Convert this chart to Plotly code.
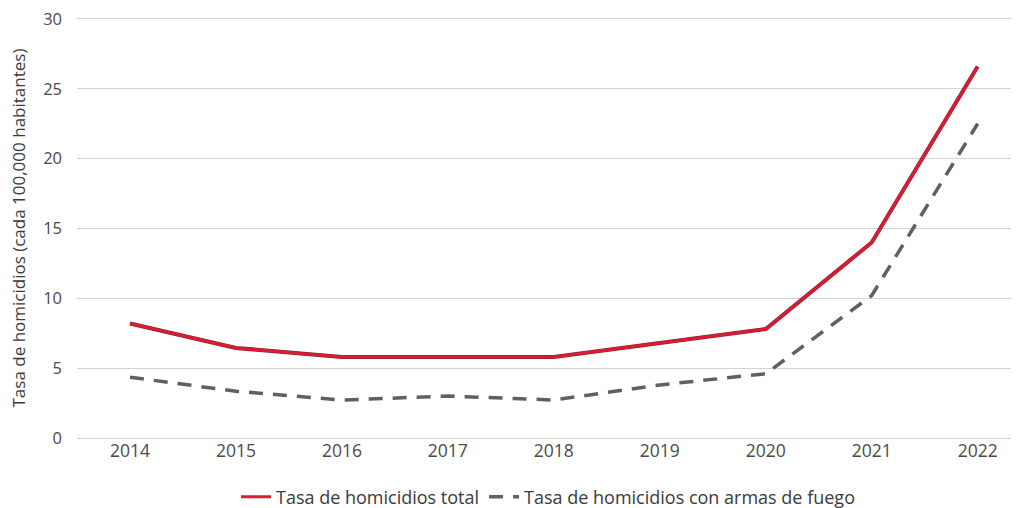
import plotly.graph_objects as go

years = ["2014", "2015", "2016", "2017", "2018", "2019", "2020", "2021", "2022"]
total = [8.2, 6.45, 5.8, 5.8, 5.8, 6.8, 7.8, 14.0, 26.6]
armas = [4.35, 3.35, 2.72, 3.0, 2.72, 3.8, 4.6, 10.2, 22.5]

fig = go.Figure()
fig.add_trace(go.Scatter(x=years, y=total, mode="lines", showlegend=False, hoverinfo="skip",
                         line=dict(color="#7a2a33", width=4)))
fig.add_trace(go.Scatter(x=years, y=total, mode="lines", name="Tasa de homicidios total",
                         line=dict(color="#dc1a32", width=3)))
fig.add_trace(go.Scatter(x=years, y=armas, mode="lines", name="Tasa de homicidios con armas de fuego",
                         line=dict(color="#5d6166", width=3.5, dash="14px,10px")))

fig.update_layout(
    width=1011, height=500,
    margin=dict(l=69, r=0, t=4, b=70),
    paper_bgcolor="white", plot_bgcolor="white",
    font=dict(family="Open Sans", size=17, color="#4a4a4a"),
    showlegend=True,
    legend=dict(orientation="h", x=0.5, xanchor="center", yref="container", y=0.022,
                yanchor="middle", font=dict(size=18, color="#3a3a3a"), itemwidth=30,
                tracegroupgap=0),
    xaxis=dict(type="category", range=[-0.5, 8.39], showgrid=False, showline=False,
               ticks="", automargin=False, tickfont=dict(size=17.5, color="#4a4a4a")),
    yaxis=dict(range=[0, 30.5], tickvals=[0, 5, 10, 15, 20, 25, 30], showgrid=True,
               gridcolor="#d3d3d6", gridwidth=1.2, ticklabeloverflow="allow",
               zeroline=True, zerolinecolor="#d3d3d6", zerolinewidth=1.2, showline=False,
               automargin=False, tickfont=dict(size=16.5, color="#4a4a4a"), ticklabelstandoff=14),
    annotations=[dict(text="Tasa de homicidios (cada 100,000 habitantes)", textangle=-90,
                      xref="paper", yref="paper", x=-(69 - 10) / 942, y=0.5 * 30 / 30.5,
                      xanchor="center", yanchor="middle", showarrow=False,
                      font=dict(size=17, color="#3a3a3a"))],
)

fig.write_html("out.html")
